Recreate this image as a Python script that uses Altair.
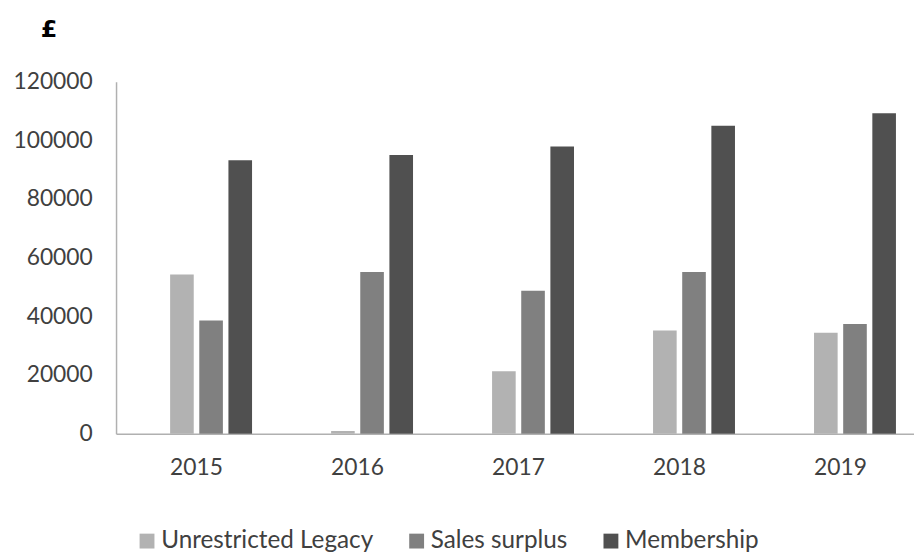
import altair as alt
import pandas as pd

years = ["2015", "2016", "2017", "2018", "2019"]
series = ["Unrestricted Legacy", "Sales surplus", "Membership"]
legacy = [54300, 900, 21300, 35200, 34400]
sales = [38600, 55100, 48700, 55100, 37400]
membership = [93200, 95000, 97900, 105000, 109300]
colors = ["#b2b2b2", "#808080", "#505050"]
offset_slots = ["(empty)"] + series
y_ticks = [0, 20000, 40000, 60000, 80000, 100000, 120000]

rows = []
for name, vals in zip(series, [legacy, sales, membership]):
    for yr, v in zip(years, vals):
        rows.append({"year": yr, "series": name, "value": v})
df = pd.DataFrame(rows)

FONT = "Lato"
TXT = "#404040"

chart = alt.Chart(df).mark_bar().encode(
    x=alt.X("year:N",
            scale=alt.Scale(domain=years, paddingInner=0.31, paddingOuter=0.1335, align=0.58),
            axis=alt.Axis(title=None, labelAngle=0, ticks=False, labelPadding=23,
                          labelFontSize=23, labelFont=FONT, labelColor=TXT,
                          domainColor="#b0b0b0", domainWidth=1.5)),
    xOffset=alt.XOffset("series:N",
                        scale=alt.Scale(domain=offset_slots, paddingInner=0.19, paddingOuter=0)),
    y=alt.Y("value:Q",
            scale=alt.Scale(domain=[0, 120000], nice=False),
            axis=alt.Axis(values=y_ticks, format="d", grid=False, ticks=False,
                          labelPadding=24, labelFontSize=23, labelFont=FONT, labelColor=TXT,
                          domainColor="#b0b0b0", domainWidth=1.5,
                          title="£", titleAngle=0, titleAlign="center", titleBaseline="middle",
                          titleX=-68, titleY=-53, titleFont="DejaVu Sans", titleFontSize=24,
                          titleFontWeight="bold", titleColor="#000000")),
    color=alt.Color("series:N",
                    scale=alt.Scale(domain=series, range=colors),
                    legend=alt.Legend(title=None, orient="none", direction="horizontal",
                                      legendX=19, legendY=451, symbolType="square",
                                      symbolSize=225, symbolStrokeWidth=0,
                                      labelFontSize=24.5, labelFont=FONT, labelColor=TXT,
                                      labelOffset=2, columnPadding=31, labelLimit=400)),
).properties(
    width=805, height=355,
    autosize=alt.AutoSizeParams(type="none"),
    padding={"left": 109, "top": 72, "right": 0, "bottom": 120},
).configure_view(stroke=None)

chart.save("out.html", embed_options={"renderer": "svg", "actions": False})
